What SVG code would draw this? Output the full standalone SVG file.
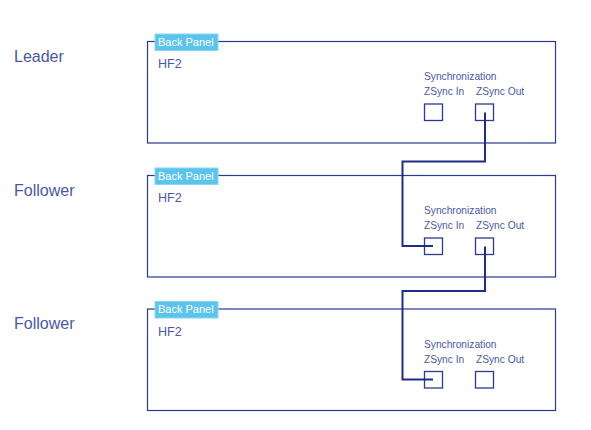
<svg xmlns="http://www.w3.org/2000/svg" width="591" height="430" viewBox="0 0 591 430">
<style>
.role{font-family:"Liberation Sans",Arial,sans-serif;font-size:16px;fill:#4a57a8}
.panel{fill:none;stroke:#2b3990;stroke-width:1.2}
.tag{fill:#5bc4ec;stroke:#8ad6f2;stroke-width:1}
.tagt{font-family:"Liberation Sans",Arial,sans-serif;font-size:11px;fill:#ffffff}
.dev{font-family:"Liberation Sans",Arial,sans-serif;font-size:12.5px;fill:#4a57a8}
.lbl{font-family:"Liberation Sans",Arial,sans-serif;font-size:10.2px;fill:#4a57a8}
.port{fill:#ffffff;stroke:#2b3990;stroke-width:1.3}
.wire{fill:none;stroke:#1f2d86;stroke-width:2}
</style>
<rect width="591" height="430" fill="#ffffff"/>
<g id="leader">
<text class="role" x="14" y="62">Leader</text>
<rect class="panel" x="147.5" y="41.5" width="408" height="101.5"/>
<rect class="tag" x="155" y="34" width="63" height="16.5"/>
<text class="tagt" x="158" y="45.5">Back Panel</text>
<text class="dev" x="158" y="68">HF2</text>
<text class="lbl" x="424" y="80">Synchronization</text>
<text class="lbl" x="424" y="95">ZSync In</text>
<text class="lbl" x="476" y="95">ZSync Out</text>
<rect class="port" x="424.5" y="104" width="18" height="16.5"/>
<rect class="port" x="475.5" y="104" width="18" height="16.5"/>
</g>
<g id="follower1">
<text class="role" x="14" y="196">Follower</text>
<rect class="panel" x="147.5" y="175.5" width="408" height="101.5"/>
<rect class="tag" x="155" y="168" width="63" height="16.5"/>
<text class="tagt" x="158" y="179.5">Back Panel</text>
<text class="dev" x="158" y="202">HF2</text>
<text class="lbl" x="424" y="214">Synchronization</text>
<text class="lbl" x="424" y="229">ZSync In</text>
<text class="lbl" x="476" y="229">ZSync Out</text>
<rect class="port" x="424.5" y="238" width="18" height="16.5"/>
<rect class="port" x="475.5" y="238" width="18" height="16.5"/>
</g>
<g id="follower2">
<text class="role" x="14" y="329">Follower</text>
<rect class="panel" x="147.5" y="309" width="408" height="101.5"/>
<rect class="tag" x="155" y="301.5" width="63" height="16.5"/>
<text class="tagt" x="158" y="313">Back Panel</text>
<text class="dev" x="158" y="335.5">HF2</text>
<text class="lbl" x="424" y="347.5">Synchronization</text>
<text class="lbl" x="424" y="362.5">ZSync In</text>
<text class="lbl" x="476" y="362.5">ZSync Out</text>
<rect class="port" x="424.5" y="371.5" width="18" height="16.5"/>
<rect class="port" x="475.5" y="371.5" width="18" height="16.5"/>
</g>
<g id="connectors">
<path class="wire" d="M485 112.5 V161.5 H402.5 V246 H433"/>
<path class="wire" d="M485 246.5 V291 H402.5 V379.5 H433"/>
</g>
</svg>
